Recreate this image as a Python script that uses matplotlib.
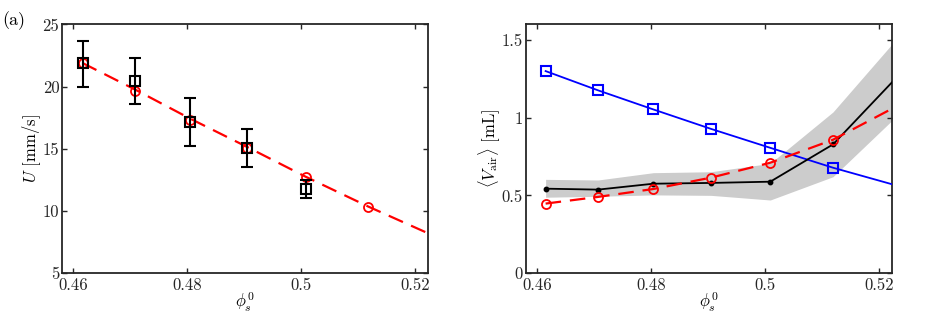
import matplotlib
matplotlib.use("Agg")
import matplotlib.pyplot as plt
import numpy as np

plt.rcParams['font.family'] = ['cmr10', 'DejaVu Serif']
plt.rcParams['mathtext.fontset'] = 'cm'
plt.rcParams['axes.formatter.use_mathtext'] = True

# ---- data: panel (a) ----
phi_exp = [0.4616, 0.4709, 0.4804, 0.4905, 0.5008]
U_exp = [21.89, 20.46, 17.18, 15.03, 11.75]
U_err_hi = [23.7, 22.3, 19.1, 16.6, 12.5]
U_err_lo = [20.0, 18.6, 15.2, 13.5, 11.0]
phi_model = [0.4616, 0.4709, 0.4804, 0.4905, 0.5008, 0.5118]
U_model = [21.9, 19.68, 17.35, 15.1, 12.74, 10.3]
phi_fit = [0.4616, 0.4709, 0.4804, 0.4905, 0.5008, 0.5118, 0.5223]
U_fit = [21.9, 19.75, 17.45, 15.15, 12.75, 10.35, 8.2]

# ---- data: panel (b) ----
phi_b = [0.4615, 0.4707, 0.4804, 0.4905, 0.5009, 0.5119]
phi_b_ext = [0.4615, 0.4707, 0.4804, 0.4905, 0.5009, 0.5119, 0.5223]
V_blue = [1.300, 1.176, 1.053, 0.928, 0.806, 0.678, 0.571]
V_red = [0.447, 0.490, 0.541, 0.614, 0.710, 0.858, 1.059]
V_black = [0.543, 0.537, 0.575, 0.580, 0.588, 0.828, 1.230]
V_band_hi = [0.603, 0.599, 0.646, 0.652, 0.706, 1.037, 1.476]
V_band_lo = [0.488, 0.494, 0.503, 0.500, 0.470, 0.620, 0.984]

xticks = [0.46, 0.48, 0.50, 0.52]
xticklabels = ['0.46', '0.48', '0.5', '0.52']

fig = plt.figure(figsize=(9.37, 3.16), dpi=100)
axL = fig.add_axes([0.0662, 0.136, 0.3906, 0.7865])
axR = fig.add_axes([0.561, 0.136, 0.3913, 0.7865])

edge = '#262626'
fs = 12

def style(ax):
    for s in ax.spines.values():
        s.set_linewidth(1.3)
        s.set_color(edge)
    ax.tick_params(direction='in', length=3.5, width=1.0, top=True, right=True,
                   labelsize=fs, colors=edge, labelcolor='#262626', pad=3)
    ax.tick_params(axis='y', pad=2)
    ax.set_xlim(0.4580, 0.5223)
    ax.set_xticks(xticks)
    ax.set_xticklabels(xticklabels)
    ax.set_xlabel(r'$\phi_s^0$', fontsize=fs, labelpad=-1)

# Panel (a)
style(axL)
axL.plot(phi_fit, U_fit, color='red', lw=1.6, dashes=(7, 4), zorder=2)
axL.plot(phi_model, U_model, 'o', mfc='none', mec='red', ms=6.5, mew=1.3, zorder=3)
yerr = [np.array(U_exp) - np.array(U_err_lo), np.array(U_err_hi) - np.array(U_exp)]
axL.errorbar(phi_exp, U_exp, yerr=yerr, fmt='s', mfc='none', mec='black', ms=7,
             mew=1.5, ecolor='black', elinewidth=1.5, capsize=4.5, capthick=1.5, zorder=4)
axL.set_ylim(5, 25)
axL.set_yticks([5, 10, 15, 20, 25])
axL.set_yticklabels(['5', '10', '15', '20', '25'])
axL.set_ylabel(r'$U$ [mm/s]', fontsize=fs, labelpad=0)
fig.text(0.002, 0.935, '(a)', fontsize=fs + 1, ha='left', va='center')

# Panel (b)
style(axR)
axR.fill_between(phi_b_ext, V_band_lo, V_band_hi, color='#cccccc', lw=0, zorder=1)
axR.plot(phi_b_ext, V_blue, color='blue', lw=1.3, zorder=3)
axR.plot(phi_b, V_blue[:6], 's', mfc='none', mec='blue', ms=7, mew=1.5, zorder=4)
axR.plot(phi_b_ext, V_black, color='black', lw=1.3, zorder=3)
axR.plot(phi_b, V_black[:6], 'o', color='black', ms=3.2, zorder=4)
axR.plot(phi_b_ext, V_red, color='red', lw=1.6, dashes=(7, 4), zorder=3)
axR.plot(phi_b, V_red[:6], 'o', mfc='none', mec='red', ms=6.5, mew=1.3, zorder=4)
axR.set_ylim(0, 1.6)
axR.set_yticks([0, 0.5, 1, 1.5])
axR.set_yticklabels(['0', '0.5', '1', '1.5'])
axR.set_ylabel(r'$\langle V_{\mathrm{air}} \rangle$ [mL]', fontsize=fs, labelpad=0)

fig.savefig('out.png', dpi=100)
